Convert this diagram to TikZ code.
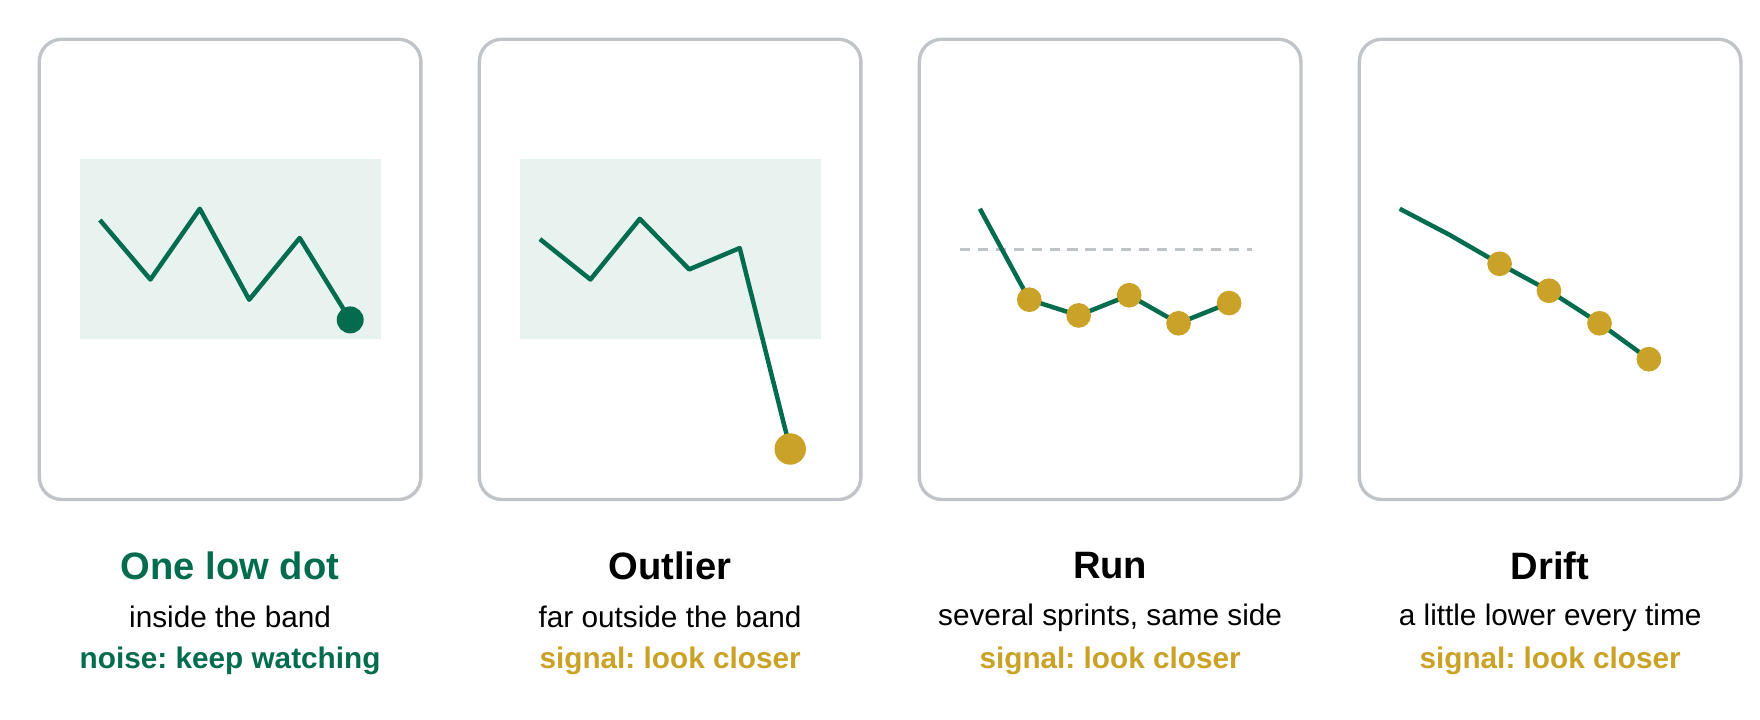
\documentclass[tikz,border=0pt]{standalone}
\usepackage{fontspec}
\setmainfont{Liberation Sans}
\begin{document}
\frenchspacing
\definecolor{grn}{HTML}{046C4E}
\definecolor{gld}{HTML}{C9A227}
\definecolor{bnd}{HTML}{E8F2EE}
\definecolor{frm}{HTML}{C0C4C8}
\begin{tikzpicture}[x=1pt,y=-1pt,
  panel/.style={draw=frm,line width=3pt,rounded corners=20pt},
  band/.style={fill=bnd},
  trace/.style={draw=grn,line width=4pt,line join=round},
  gdot/.style={circle,fill=gld,inner sep=0pt,minimum size=22pt},
  title/.style={font=\fontsize{34}{40}\selectfont\bfseries},
  sub/.style={font=\fontsize{26.5}{30}\selectfont},
  tag/.style={font=\fontsize{26.5}{30}\selectfont\bfseries}]
\useasboundingbox (0,0) rectangle (1568,641);
\foreach \i in {0,1,2,3}{\draw[panel] (35+392*\i,35) rectangle (375+392*\i,445);}
\fill[band] (71,142) rectangle (339,302);
\fill[band] (463,142) rectangle (731,302);
% panel 1
\draw[trace] (89,196)--(134,249)--(178,186)--(222,267)--(267,212)--(312,285);
\node[circle,fill=grn,inner sep=0pt,minimum size=24pt] (d1) at (312,285) {};
% panel 2
\draw[trace] (481,213)--(526,249)--(570,195)--(614,240)--(659,221)--(704,400);
\node[gdot,minimum size=28pt] (d2) at (704,400) {};
% panel 3
\draw[frm,line width=3pt,dash pattern=on 9pt off 7pt] (855,222)--(1115,222);
\draw[trace] (873,186)--(917,267)--(961,281)--(1006,263)--(1050,288)--(1095,270);
\foreach \p/\n in {917/267,961/281,1006/263,1050/288,1095/270}{\node[gdot] at (\p,\n) {};}
% panel 4
\draw[trace] (1247,186)--(1291,209)--(1336,235)--(1380,259)--(1425,288)--(1469,320);
\foreach \p/\n in {1336/235,1380/259,1425/288,1469/320}{\node[gdot] at (\p,\n) {};}
% texts
\node[title,text=grn] (t1) at (205,504) {One low dot};
\node[sub] (s1) at (205,550) {inside the band};
\node[tag,text=grn] (g1) at (205,589) {noise: keep watching};
\node[title] (t2) at (597,504) {Outlier};
\node[sub] (s2) at (597,550) {far outside the band};
\node[tag,text=gld] (g2) at (597,589) {signal: look closer};
\node[title] (t3) at (989,504) {Run};
\node[sub] (s3) at (989,550) {several sprints, same side};
\node[tag,text=gld] (g3) at (989,589) {signal: look closer};
\node[title] (t4) at (1381,504) {Drift};
\node[sub] (s4) at (1381,550) {a little lower every time};
\node[tag,text=gld] (g4) at (1381,589) {signal: look closer};
\end{tikzpicture}
\end{document}
